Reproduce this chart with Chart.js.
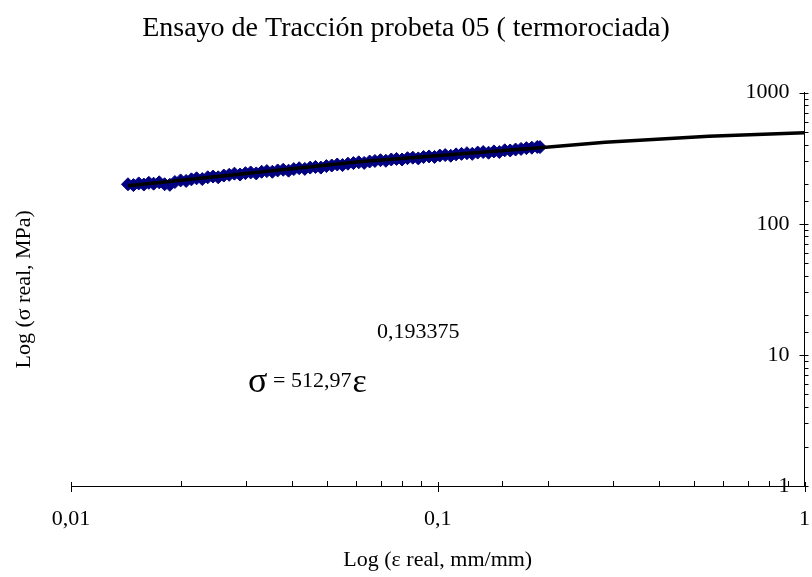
<!DOCTYPE html>
<html>
<head>
<meta charset="utf-8">
<script src="https://cdn.jsdelivr.net/npm/chart.js@4.4.1/dist/chart.umd.min.js"></script>
<style>
body { margin: 0; background: #fff; }
</style>
</head>
<body>
<canvas id="myChart" width="812" height="577"></canvas>
<script>
// datos (deformacion real, tension real)
const strain = [0.0143, 0.0148, 0.0153, 0.0158, 0.0163, 0.0168, 0.0174, 0.0180, 0.0186, 0.0192,
    0.0199, 0.0206, 0.0213, 0.0220, 0.0228, 0.0236, 0.0244, 0.0252, 0.0261, 0.0270,
    0.0279, 0.0289, 0.0299, 0.0309, 0.0320, 0.0331, 0.0342, 0.0354, 0.0366, 0.0379,
    0.0392, 0.0405, 0.0419, 0.0434, 0.0449, 0.0464, 0.0480, 0.0497, 0.0514, 0.0532,
    0.0550, 0.0569, 0.0589, 0.0609, 0.0630, 0.0652, 0.0674, 0.0698, 0.0722, 0.0747,
    0.0772, 0.0799, 0.0827, 0.0855, 0.0885, 0.0915, 0.0947, 0.0980, 0.1013, 0.1048,
    0.1085, 0.1122, 0.1161, 0.1201, 0.1242, 0.1285, 0.1330, 0.1376, 0.1423, 0.1472,
    0.1523, 0.1576, 0.1630, 0.1687, 0.1745, 0.1805, 0.1868, 0.1900];
const stress = [200, 197, 203, 199, 205, 202, 207, 200, 198, 208,
    214, 212, 218, 222, 219, 226, 229, 226, 233, 236,
    241, 237, 243, 246, 242, 249, 252, 249, 255, 258,
    254, 261, 265, 262, 268, 271, 268, 275, 278, 283,
    280, 287, 290, 294, 291, 298, 301, 305, 302, 309,
    312, 309, 316, 319, 315, 323, 326, 323, 331, 334,
    330, 338, 341, 345, 341, 349, 352, 348, 356, 352,
    363, 362, 368, 372, 377, 380, 385, 384];

// linea de tendencia potencial
const trendStrain = [0.0143, 0.061, 0.19, 0.286, 0.548, 1];
const trendStress = [195, 297, 380, 418, 464, 495];

const xTicks = [0.01, 0.1, 1];
const xTickLabels = ['0,01', '0,1', '1'];
const yTicks = [1, 10, 100, 1000];
const yTickLabels = ['1', '10', '100', '1000'];

const eqExponent = '0,193375';
const eqBase = '= 512,97';

const serif = '"Liberation Serif", "Times New Roman", serif';

function tickLabel(value, ticks, labels) {
    for (let i = 0; i < ticks.length; i++) {
        if (Math.abs(value - ticks[i]) < ticks[i] * 1e-6) return labels[i];
    }
    return '';
}

function isMajor(value) {
    const l = Math.log10(value);
    return Math.abs(l - Math.round(l)) < 1e-6;
}

const extras = {
    id: 'extras',
    afterDraw(chart) {
        const ctx = chart.ctx;
        const sx = chart.scales.x;
        const sy = chart.scales.y;
        const area = chart.chartArea;
        ctx.save();
        ctx.strokeStyle = '#000';
        ctx.lineWidth = 1;
        sx.ticks.forEach(t => {
            const px = Math.round(sx.getPixelForValue(t.value)) + 0.5;
            const major = isMajor(t.value);
            ctx.beginPath();
            ctx.moveTo(px, area.bottom - (major ? 4 : 5));
            ctx.lineTo(px, area.bottom + (major ? 6 : 0));
            ctx.stroke();
        });
        sy.ticks.forEach(t => {
            const py = Math.round(sy.getPixelForValue(t.value)) + 0.5;
            const major = isMajor(t.value);
            ctx.beginPath();
            ctx.moveTo(area.right - (major ? 5 : 0), py);
            ctx.lineTo(area.right + 4, py);
            ctx.stroke();
        });

        // ecuacion de la tendencia
        ctx.fillStyle = '#000';
        ctx.textBaseline = 'alphabetic';
        ctx.textAlign = 'left';
        ctx.font = '22px ' + serif;
        ctx.fillText(eqExponent, 377, 338);
        ctx.font = '36px ' + serif;
        ctx.fillText('σ', 248, 392);
        ctx.font = '22px ' + serif;
        ctx.fillText(eqBase, 273, 387);
        const w = ctx.measureText(eqBase).width;
        ctx.font = '34px ' + serif;
        ctx.fillText('ε', 273 + w + 1, 392);
        ctx.restore();
    }
};

const ctx = document.getElementById('myChart').getContext('2d');
const myChart = new Chart(ctx, {
    type: 'scatter',
    data: {
        datasets: [{
            label: 'Tendencia',
            data: trendStrain.map((v, i) => ({x: v, y: trendStress[i]})),
            showLine: true,
            borderColor: '#000',
            borderWidth: 3.5,
            pointRadius: 0,
            fill: false
        }, {
            label: 'Probeta 05',
            data: strain.map((v, i) => ({x: v, y: stress[i]})),
            showLine: false,
            pointStyle: 'rectRot',
            pointRadius: 6.5,
            backgroundColor: '#000080',
            borderColor: '#000080',
            borderWidth: 1
        }]
    },
    options: {
        responsive: false,
        animation: false,
        devicePixelRatio: 1,
        layout: {padding: 0},
        plugins: {
            legend: {display: false},
            tooltip: {enabled: false},
            title: {
                display: true,
                text: 'Ensayo de Tracción probeta 05 ( termorociada)',
                color: '#000',
                font: {family: serif, size: 28, weight: 'normal'},
                padding: {top: 12, bottom: 47}
            }
        },
        scales: {
            x: {
                type: 'logarithmic',
                position: 'bottom',
                min: 0.01,
                max: 1,
                grid: {display: false, drawTicks: true, tickLength: 20},
                border: {display: true, color: '#000', width: 1},
                ticks: {
                    color: '#000',
                    font: {family: serif, size: 22},
                    padding: 0,
                    maxRotation: 0,
                    autoSkip: false,
                    callback: v => tickLabel(v, xTicks, xTickLabels)
                },
                title: {
                    display: true,
                    text: 'Log (ε real, mm/mm)',
                    color: '#000',
                    font: {family: serif, size: 22},
                    padding: {top: 0, bottom: 4}
                },
                afterFit: s => { s.height = 91; }
            },
            y: {
                type: 'logarithmic',
                position: 'right',
                min: 1,
                max: 1000,
                grid: {display: false, drawTicks: false},
                border: {display: true, color: '#000', width: 1},
                ticks: {
                    mirror: true,
                    color: '#000',
                    font: {family: serif, size: 22},
                    padding: -15,
                    autoSkip: false,
                    callback: v => tickLabel(v, yTicks, yTickLabels)
                },
                afterFit: s => { s.width = 4; }
            },
            yTitle: {
                type: 'linear',
                position: 'left',
                display: true,
                grid: {display: false, drawTicks: false},
                border: {display: false},
                ticks: {display: false},
                title: {
                    display: true,
                    text: 'Log (σ real, MPa)',
                    color: '#000',
                    font: {family: serif, size: 22},
                    padding: {top: 11, bottom: 0}
                },
                afterFit: s => { s.width = 71; }
            }
        }
    },
    plugins: [extras]
});
</script>
</body>
</html>
